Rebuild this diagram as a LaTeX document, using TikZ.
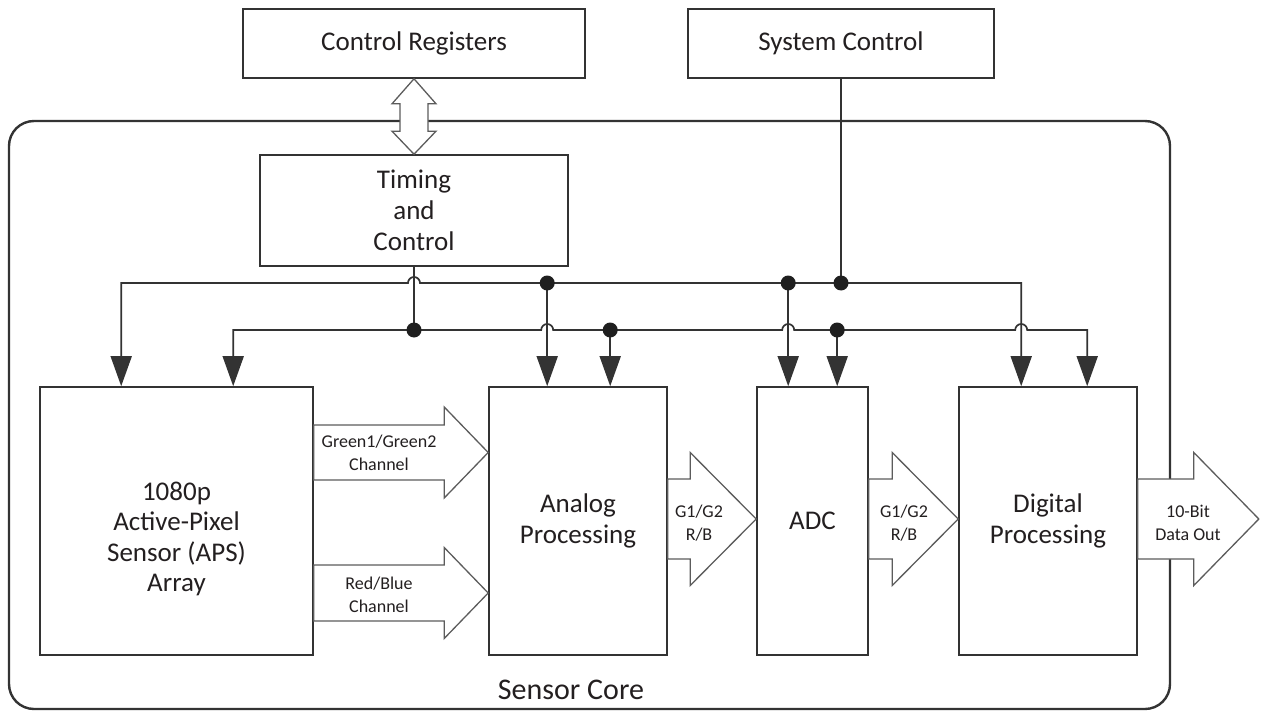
\documentclass[tikz,border=0pt]{standalone}
\usepackage{fontspec}
\setmainfont{Carlito}
\usetikzlibrary{arrows.meta,calc}
\definecolor{ink}{HTML}{333333}
\definecolor{txt}{HTML}{231F20}
\newcommand\fatarrow[5]{% tail, tip, shaft half-height, head half-height, head length
  \draw[fat] let \p1=(#1), \p2=(#2) in
    (\x1,{\y1+#3}) -- ({\x2-#5},{\y1+#3}) -- ({\x2-#5},{\y1+#4}) -- (\x2,\y1)
    -- ({\x2-#5},{\y1-#4}) -- ({\x2-#5},{\y1-#3}) -- (\x1,{\y1-#3}) -- cycle;}
\begin{document}
\begin{tikzpicture}[x=1pt,y=-1pt,
  block/.style={draw=ink, line width=1.6pt, fill=white, inner sep=0pt, align=center,
    text=txt, font=\fontsize{27}{31}\selectfont},
  btext/.style={inner sep=0pt, align=center, text=txt, font=\fontsize{27}{30.5}\selectfont},
  small/.style={inner sep=0pt, align=center, text=txt, font=\fontsize{18}{23}\selectfont},
  sig/.style={draw=ink, line width=1.7pt},
  feed/.style={-{Triangle[length=30pt,width=21pt]}},
  both/.style={{Triangle[length=30pt,width=21pt]}-{Triangle[length=30pt,width=21pt]}},
  dot/.style={circle, fill=black!88, inner sep=0pt, minimum size=15pt},
  fat/.style={draw=ink!80, line width=1.3pt, fill=white, line join=miter},
  frame/.style={draw=ink, line width=2.4pt, rounded corners=25pt}]
\useasboundingbox (0,0) rectangle (1265,711);

% sensor core enclosure
\node[frame, minimum width=1161pt, minimum height=588pt, inner sep=0pt] (core) at (589.5,415) {};
\node[inner sep=0pt, text=txt, font=\fontsize{30}{34}\selectfont] (corelbl) at (571,690) {Sensor Core};

% blocks
\node[block, minimum width=342pt, minimum height=69pt] (creg) at (414,43.5) {Control Registers};
\node[block, minimum width=306pt, minimum height=69pt] (sysc) at (841,43.5) {System Control};
\node[block, minimum width=308pt, minimum height=111pt] (tim) at (414,210.5) {Timing\\and\\Control};
\node[block, minimum width=273pt, minimum height=268pt] (aps) at (176.5,521) {};
\node[btext] (apstxt) at (176.5,539) {1080p\\Active-Pixel\\Sensor (APS)\\Array};
\node[block, minimum width=178pt, minimum height=268pt] (ana) at (578,521) {Analog\\Processing};
\node[block, minimum width=111pt, minimum height=268pt] (adc) at (812.5,521) {ADC};
\node[block, minimum width=178pt, minimum height=268pt] (dig) at (1048,521) {Digital\\Processing};

% register interface
\draw[fat] let \p1=(creg.south), \p2=(tim.north) in
  (\x1,\y1) -- ({\x1+22},{\y1-25}) -- ({\x1+14},{\y1-25}) -- ({\x1+14},{\y2+23})
  -- ({\x1+22},{\y2+23}) -- (\x2,\y2) -- ({\x1-22},{\y2+23}) -- ({\x1-14},{\y2+23})
  -- ({\x1-14},{\y1-25}) -- ({\x1-22},{\y1-25}) -- cycle;

% bus levels and block inputs
\coordinate (y1) at (0,283);
\coordinate (y2) at (0,330);
\coordinate (t1) at ($(aps.north west)+(82,0)$);
\coordinate (t2) at ($(aps.north west)+(194,0)$);
\coordinate (t3) at ($(ana.north west)+(59,0)$);
\coordinate (t4) at ($(ana.north west)+(122,0)$);
\coordinate (t5) at ($(adc.north west)+(32,0)$);
\coordinate (t6) at ($(adc.north west)+(81,0)$);
\coordinate (t7) at ($(dig.north west)+(63,0)$);
\coordinate (t8) at ($(dig.north west)+(129,0)$);

% upper control bus
\draw[sig, both] (t1) -- (t1 |- y1) -- ($(tim.south |- y1)+(-6,0)$) arc(180:360:6)
  -- (t7 |- y1) -- (t7);
% lower control bus
\draw[sig, both] (t2) -- (t2 |- y2) -- ($(t3 |- y2)+(-6,0)$) arc(180:360:6)
  -- ($(t5 |- y2)+(-6,0)$) arc(180:360:6)
  -- ($(t7 |- y2)+(-6,0)$) arc(180:360:6) -- (t8 |- y2) -- (t8);

% drops and feeds
\draw[sig] (tim.south) -- (tim.south |- y2);
\draw[sig] (sysc.south) -- (sysc.south |- y1);
\draw[sig, feed] (t3 |- y1) -- (t3);
\draw[sig, feed] (t4 |- y2) -- (t4);
\draw[sig, feed] (t5 |- y1) -- (t5);
\draw[sig, feed] (t6 |- y2) -- (t6);

% junctions
\node[dot] (j1) at (tim.south |- y2) {};
\node[dot] (j2) at (t3 |- y1) {};
\node[dot] (j3) at (t4 |- y2) {};
\node[dot] (j4) at (t5 |- y1) {};
\node[dot] (j5) at (sysc.south |- y1) {};
\node[dot] (j6) at (t6 |- y2) {};

% data paths
\fatarrow{$(aps.east)+(0,-68.5)$}{$(ana.west)+(0,-68.5)$}{27.5}{45.5}{44}
\fatarrow{$(aps.east)+(0,72)$}{$(ana.west)+(0,72)$}{28}{45.5}{44}
\fatarrow{$(ana.east)+(0,-2)$}{$(adc.west)+(0,-2)$}{40}{66.5}{66}
\fatarrow{$(adc.east)+(0,-2)$}{$(dig.west)+(0,-2)$}{40}{66.5}{66}
\fatarrow{$(dig.east)+(0,-2)$}{$(dig.east)+(121,-2)$}{40}{66.5}{65}

\node[small] (lg) at (379,453) {Green1/Green2\\Channel};
\node[small] (lr) at (379,595) {Red/Blue\\Channel};
\node[small] (la) at (699,523) {G1/G2\\R/B};
\node[small] (lb) at (904,523) {G1/G2\\R/B};
\node[small] (lo) at (1188,523) {10-Bit\\Data Out};
\end{tikzpicture}
\end{document}
